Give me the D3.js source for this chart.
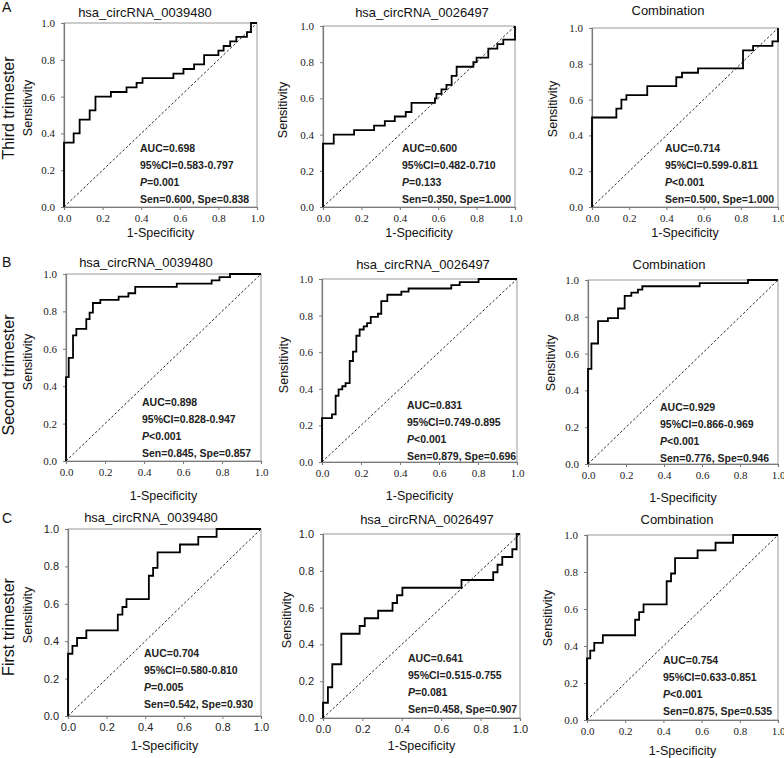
<!DOCTYPE html>
<html><head><meta charset="utf-8">
<script src="https://cdn.jsdelivr.net/npm/d3@7"></script>
<style>body{margin:0;background:#fff} svg{display:block}</style>
</head><body>
<svg id="chart" width="784" height="758"></svg>
<script>
// ---------- data ----------
const tickValues = [0, 0.2, 0.4, 0.6, 0.8, 1.0];
const rowLetters = ["A", "B", "C"];
const rowLabels = ["Third trimester", "Second trimester", "First trimester"];
const panelTitles = ["hsa_circRNA_0039480", "hsa_circRNA_0026497", "Combination",
                     "hsa_circRNA_0039480", "hsa_circRNA_0026497", "Combination",
                     "hsa_circRNA_0039480", "hsa_circRNA_0026497", "Combination"];
const aucValues = ["0.698", "0.600", "0.714", "0.898", "0.831", "0.929", "0.704", "0.641", "0.754"];
const ciValues = ["0.583-0.797", "0.482-0.710", "0.599-0.811", "0.828-0.947", "0.749-0.895",
                  "0.866-0.969", "0.580-0.810", "0.515-0.755", "0.633-0.851"];
const pValues = ["=0.001", "=0.133", "<0.001", "<0.001", "<0.001", "<0.001", "=0.005", "=0.081", "<0.001"];
const senValues = ["0.600", "0.350", "0.500", "0.845", "0.879", "0.776", "0.542", "0.458", "0.875"];
const speValues = ["0.838", "1.000", "1.000", "0.857", "0.696", "0.946", "0.930", "0.907", "0.535"];

// ROC curves: 1-Specificity (fpr) and Sensitivity (tpr) at each step
const a1Fpr = [0, 0, 0.05, 0.081, 0.133, 0.163, 0.243, 0.324, 0.376, 0.407, 0.567, 0.619, 0.674, 0.726, 0.80, 0.827, 0.861, 0.893, 0.948, 0.969, 1];
const a1Tpr = [0, 0.35, 0.40, 0.475, 0.525, 0.60, 0.625, 0.65, 0.675, 0.70, 0.725, 0.75, 0.775, 0.825, 0.85, 0.875, 0.90, 0.925, 0.95, 1.0, 1];
const a2Fpr = [0, 0, 0.056, 0.162, 0.266, 0.322, 0.374, 0.431, 0.461, 0.583, 0.591, 0.617, 0.643, 0.67, 0.696, 0.783, 0.80, 0.861, 0.908, 0.939, 1];
const a2Tpr = [0, 0.35, 0.40, 0.425, 0.45, 0.475, 0.50, 0.525, 0.575, 0.60, 0.625, 0.65, 0.675, 0.725, 0.775, 0.80, 0.825, 0.875, 0.90, 0.925, 1];
const a3Fpr = [0, 0, 0.131, 0.158, 0.185, 0.297, 0.453, 0.484, 0.57, 0.812, 0.866, 0.97, 1];
const a3Tpr = [0, 0.5, 0.55, 0.60, 0.625, 0.675, 0.725, 0.75, 0.775, 0.875, 0.90, 0.925, 1];
const b1Fpr = [0, 0, 0.014, 0.036, 0.053, 0.104, 0.121, 0.138, 0.176, 0.27, 0.32, 0.355, 0.568, 0.747, 0.787, 0.841, 1];
const b1Tpr = [0, 0.448, 0.552, 0.672, 0.707, 0.759, 0.793, 0.845, 0.862, 0.879, 0.897, 0.931, 0.948, 0.966, 0.983, 1.0, 1];
const b2Fpr = [0, 0, 0.051, 0.07, 0.085, 0.104, 0.121, 0.142, 0.159, 0.176, 0.193, 0.214, 0.231, 0.25, 0.287, 0.304, 0.335, 0.407, 0.444, 0.663, 0.706, 0.803, 1];
const b2Tpr = [0, 0.24, 0.26, 0.362, 0.397, 0.414, 0.431, 0.552, 0.603, 0.69, 0.724, 0.741, 0.759, 0.793, 0.81, 0.879, 0.914, 0.931, 0.948, 0.966, 0.983, 1.0, 1];
const b3Fpr = [0, 0, 0.018, 0.053, 0.105, 0.158, 0.193, 0.228, 0.263, 0.286, 0.588, 0.842, 1];
const b3Tpr = [0, 0.517, 0.655, 0.776, 0.793, 0.845, 0.914, 0.931, 0.948, 0.966, 0.983, 1.0, 1];
const c1Fpr = [0, 0, 0.023, 0.047, 0.095, 0.258, 0.282, 0.303, 0.419, 0.441, 0.464, 0.58, 0.675, 0.77, 1];
const c1Tpr = [0, 0.333, 0.375, 0.417, 0.458, 0.542, 0.583, 0.625, 0.75, 0.792, 0.875, 0.917, 0.958, 1.0, 1];
const c2Fpr = [0, 0, 0.025, 0.047, 0.093, 0.186, 0.212, 0.28, 0.353, 0.376, 0.403, 0.703, 0.864, 0.886, 0.91, 0.961, 0.983, 1];
const c2Tpr = [0, 0.083, 0.167, 0.292, 0.458, 0.5, 0.542, 0.583, 0.625, 0.667, 0.708, 0.75, 0.792, 0.833, 0.875, 0.917, 1.0, 1];
const c3Fpr = [0, 0, 0.017, 0.038, 0.083, 0.252, 0.273, 0.296, 0.417, 0.44, 0.461, 0.579, 0.673, 0.765, 1];
const c3Tpr = [0, 0.333, 0.375, 0.417, 0.458, 0.542, 0.583, 0.625, 0.75, 0.792, 0.875, 0.917, 0.958, 1.0, 1];

const curveFpr = [a1Fpr, a2Fpr, a3Fpr, b1Fpr, b2Fpr, b3Fpr, c1Fpr, c2Fpr, c3Fpr];
const curveTpr = [a1Tpr, a2Tpr, a3Tpr, b1Tpr, b2Tpr, b3Tpr, c1Tpr, c2Tpr, c3Tpr];

// ---------- layout (pixels) ----------
const layout = [
  {l:64,  t:23,  r:257, b:207, tx:145, ty:17,  ax:140, ay:152, sx:28,  sy:108, xy:237, serif:true},
  {l:323, t:26,  r:515, b:207, tx:422, ty:17,  ax:402, ay:152, sx:283, sy:110, xy:237, serif:true},
  {l:592, t:28,  r:778, b:207, tx:668, ty:15,  ax:665, ay:152, sx:553, sy:109, xy:237, serif:true},
  {l:66,  t:274, r:261, b:461, tx:146, ty:267, ax:142, ay:406, sx:28,  sy:362, xy:500, serif:true},
  {l:322, t:279, r:517, b:462, tx:423, ty:269, ax:407, ay:409, sx:284, sy:365, xy:500, serif:true},
  {l:588, t:280, r:778, b:464, tx:669, ty:269, ax:660, ay:411, sx:551, sy:363, xy:502, serif:true},
  {l:68,  t:529, r:261, b:716, tx:151, ty:522, ax:144, ay:657, sx:28,  sy:615, xy:750, serif:false},
  {l:323, t:534, r:520, b:718, tx:427, ty:524, ax:408, ay:662, sx:287, sy:620, xy:750, serif:false},
  {l:587, t:535, r:778, b:720, tx:677, ty:524, ax:663, ay:664, sx:548, sy:618, xy:755, serif:true}
];
const rowLayout = [
  {lx:2, ly:12, rx:14, ry:108},
  {lx:2, ly:267, rx:14, ry:375},
  {lx:2, ly:523, rx:14, ry:627}
];

const SANS = "'Liberation Sans', Arial, Helvetica, sans-serif";
const SERIF = "'Liberation Serif', 'Times New Roman', serif";
const svg = d3.select("#chart");

// row letters and labels
rowLetters.forEach((letter, r) => {
  const R = rowLayout[r];
  svg.append("text").attr("x", R.lx).attr("y", R.ly).text(letter)
    .style("font-family", SANS).style("font-size", "14px").attr("fill", "#111");
  svg.append("text").text(rowLabels[r])
    .attr("transform", `translate(${R.rx},${R.ry}) rotate(-90)`)
    .attr("text-anchor", "middle")
    .style("font-family", SANS).style("font-size", "16px").attr("fill", "#111");
});

const fmt = d3.format(".1f");
layout.forEach((L, i) => {
  const x = d3.scaleLinear().domain([0, 1]).range([L.l, L.r]);
  const y = d3.scaleLinear().domain([0, 1]).range([L.b, L.t]);
  const g = svg.append("g");
  const tickFont = L.serif ? SERIF : SANS;
  const tickSize = L.serif ? "11px" : "11px";

  // frame
  g.append("rect").attr("x", x(0)).attr("y", y(1))
    .attr("width", x(1) - x(0)).attr("height", y(0) - y(1))
    .attr("fill", "none").attr("stroke", "#9a9a9a").attr("stroke-width", 1);

  const xa = g.append("g").attr("transform", `translate(0,${L.b})`)
    .call(d3.axisBottom(x).tickValues(tickValues).tickFormat(fmt).tickSize(3).tickPadding(4));
  const ya = g.append("g").attr("transform", `translate(${L.l},0)`)
    .call(d3.axisLeft(y).tickValues(tickValues).tickFormat(fmt).tickSize(3).tickPadding(6));
  [xa, ya].forEach(a => {
    a.select(".domain").attr("stroke", "#7a7a7a").attr("stroke-width", 1.2);
    a.selectAll(".tick line").attr("stroke", "#7a7a7a");
    a.selectAll(".tick text").style("font-family", tickFont).style("font-size", tickSize).attr("fill", "#222");
  });

  // diagonal reference
  const line = d3.line().x(d => x(d[0])).y(d => y(d[1]));
  g.append("path").attr("d", line([[0, 0], [1, 1]]))
    .attr("fill", "none").attr("stroke", "#111").attr("stroke-width", 0.9)
    .attr("stroke-dasharray", "2.5,2");

  // ROC curve
  const pts = curveFpr[i].map((f, k) => [f, curveTpr[i][k]]);
  g.append("path").attr("d", line.curve(d3.curveStepAfter)(pts))
    .attr("fill", "none").attr("stroke", "#000").attr("stroke-width", 1.8);

  // title
  g.append("text").attr("x", L.tx).attr("y", L.ty).attr("text-anchor", "middle")
    .text(panelTitles[i]).style("font-family", SANS).style("font-size", "13px").attr("fill", "#111");

  // axis titles
  g.append("text").attr("x", (L.l + L.r) / 2).attr("y", L.xy).attr("text-anchor", "middle")
    .text("1-Specificity").style("font-family", SANS).style("font-size", "12.5px").attr("fill", "#111");
  g.append("text").attr("transform", `translate(${L.sx + 4},${L.sy}) rotate(-90)`)
    .attr("text-anchor", "middle").text("Sensitivity")
    .style("font-family", SANS).style("font-size", "12.5px").attr("fill", "#111");

  // annotation
  const ann = g.append("g").style("font-family", SANS).style("font-size", "10.5px")
    .style("font-weight", "bold").attr("fill", "#222");
  const gap = 17;
  ann.append("text").attr("x", L.ax).attr("y", L.ay).text("AUC=" + aucValues[i]);
  ann.append("text").attr("x", L.ax).attr("y", L.ay + gap).text("95%CI=" + ciValues[i]);
  const pt = ann.append("text").attr("x", L.ax).attr("y", L.ay + 2 * gap);
  pt.append("tspan").style("font-style", "italic").text("P");
  pt.append("tspan").text(pValues[i]);
  ann.append("text").attr("x", L.ax).attr("y", L.ay + 3 * gap)
    .text("Sen=" + senValues[i] + ", Spe=" + speValues[i]);
});
</script>
</body></html>
